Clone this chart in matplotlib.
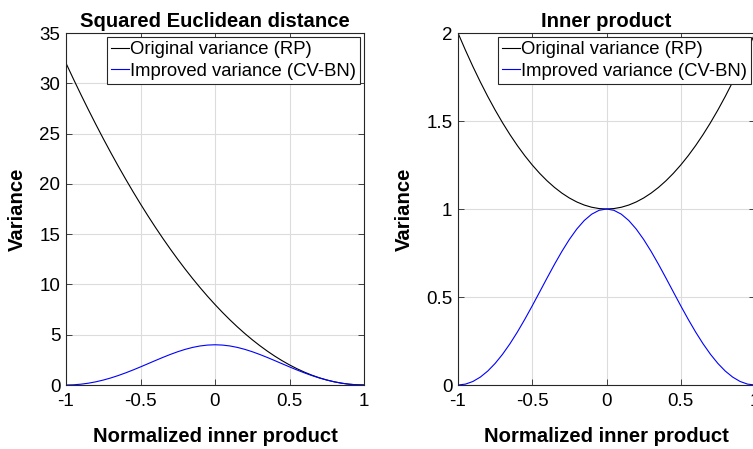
import matplotlib
matplotlib.use('Agg')
import matplotlib.pyplot as plt
import numpy as np

plt.rcParams['font.family'] = ['Liberation Sans', 'DejaVu Sans']

# normalized inner product (x axis)
rho = [-1.0, -0.95, -0.9, -0.85, -0.8, -0.75, -0.7, -0.65, -0.6, -0.55, -0.5,
       -0.45, -0.4, -0.35, -0.3, -0.25, -0.2, -0.15, -0.1, -0.05, 0.0,
       0.05, 0.1, 0.15, 0.2, 0.25, 0.3, 0.35, 0.4, 0.45, 0.5,
       0.55, 0.6, 0.65, 0.7, 0.75, 0.8, 0.85, 0.9, 0.95, 1.0]

# squared euclidean distance
euc_rp = [32.0, 30.42, 28.88, 27.38, 25.92, 24.5, 23.12, 21.78, 20.48, 19.22, 18.0,
          16.82, 15.68, 14.58, 13.52, 12.5, 11.52, 10.58, 9.68, 8.82, 8.0,
          7.22, 6.48, 5.78, 5.12, 4.5, 3.92, 3.38, 2.88, 2.42, 2.0,
          1.62, 1.28, 0.98, 0.72, 0.5, 0.32, 0.18, 0.08, 0.02, 0.0]
euc_cvbn = [0.0, 0.02, 0.08, 0.179, 0.316, 0.49, 0.698, 0.938, 1.205, 1.494, 1.8,
            2.116, 2.433, 2.744, 3.039, 3.309, 3.545, 3.738, 3.882, 3.97, 4.0,
            3.97, 3.882, 3.738, 3.545, 3.309, 3.039, 2.744, 2.433, 2.116, 1.8,
            1.494, 1.205, 0.938, 0.698, 0.49, 0.316, 0.179, 0.08, 0.02, 0.0]

# inner product
ip_rp = [2.0, 1.9025, 1.81, 1.7225, 1.64, 1.5625, 1.49, 1.4225, 1.36, 1.3025, 1.25,
         1.2025, 1.16, 1.1225, 1.09, 1.0625, 1.04, 1.0225, 1.01, 1.0025, 1.0,
         1.0025, 1.01, 1.0225, 1.04, 1.0625, 1.09, 1.1225, 1.16, 1.2025, 1.25,
         1.3025, 1.36, 1.4225, 1.49, 1.5625, 1.64, 1.7225, 1.81, 1.9025, 2.0]
ip_cvbn = [0.0, 0.005, 0.0199, 0.0447, 0.079, 0.1225, 0.1746, 0.2345, 0.3012, 0.3735, 0.45,
           0.5289, 0.6083, 0.686, 0.7597, 0.8272, 0.8862, 0.9345, 0.9704, 0.9925, 1.0,
           0.9925, 0.9704, 0.9345, 0.8862, 0.8272, 0.7597, 0.686, 0.6083, 0.5289, 0.45,
           0.3735, 0.3012, 0.2345, 0.1746, 0.1225, 0.079, 0.0447, 0.0199, 0.005, 0.0]

xticks = [-1, -0.5, 0, 0.5, 1]
xticklabels = ['-1', '-0.5', '0', '0.5', '1']
labels = ['Original variance (RP)', 'Improved variance (CV-BN)']

W, H = 753, 449
fig = plt.figure(figsize=(W / 100, H / 100), dpi=100)
ax1 = fig.add_axes([66 / W, 1 - 385 / H, 298 / W, 352 / H])
ax2 = fig.add_axes([458 / W, 1 - 385 / H, 297 / W, 352 / H])


def style(ax, title, ylim, yticks, yticklabels):
    ax.set_xlim(-1, 1)
    ax.set_ylim(*ylim)
    ax.set_xticks(xticks)
    ax.set_xticklabels(xticklabels)
    ax.set_yticks(yticks)
    ax.set_yticklabels(yticklabels)
    ax.grid(True, color='#dcdcdc', linewidth=0.8)
    ax.set_axisbelow(True)
    ax.tick_params(direction='in', length=4, width=0.6, top=True, right=True,
                   labelsize=13.5, color='#262626', pad=4)
    ax.tick_params(axis='x', pad=6)
    for s in ax.spines.values():
        s.set_linewidth(0.8)
        s.set_color('#262626')
    ax.set_title(title, fontsize=14.6, fontweight='bold', pad=4)
    ax.set_xlabel('Normalized inner product', fontsize=14.6, fontweight='bold', labelpad=12)
    ax.set_ylabel('Variance', fontsize=14.6, fontweight='bold', labelpad=9)
    leg = ax.legend(loc='upper right', fontsize=13.3, handlelength=0.95, handletextpad=0.05,
                    borderpad=0.22, labelspacing=0.25, borderaxespad=0.22,
                    fancybox=False, framealpha=1)
    leg.get_frame().set_edgecolor('#262626')
    leg.get_frame().set_linewidth(0.8)


ax1.plot(rho, euc_rp, color='black', linewidth=0.8, label=labels[0])
ax1.plot(rho, euc_cvbn, color='blue', linewidth=0.8, label=labels[1])
style(ax1, 'Squared Euclidean distance', (0, 35), [0, 5, 10, 15, 20, 25, 30, 35],
      ['0', '5', '10', '15', '20', '25', '30', '35'])

ax2.plot(rho, ip_rp, color='black', linewidth=0.8, label=labels[0])
ax2.plot(rho, ip_cvbn, color='blue', linewidth=0.8, label=labels[1])
style(ax2, 'Inner product', (0, 2), [0, 0.5, 1, 1.5, 2], ['0', '0.5', '1', '1.5', '2'])

fig.savefig('out.png', dpi=100)
